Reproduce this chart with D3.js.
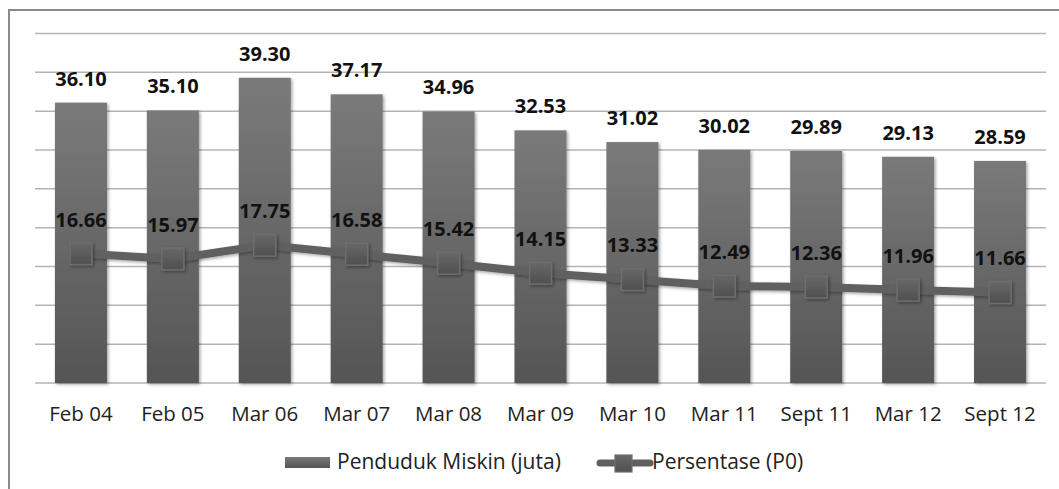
<!DOCTYPE html>
<html>
<head>
<meta charset="utf-8">
<script src="https://cdn.jsdelivr.net/npm/d3@7"></script>
<style>
  html, body { margin: 0; padding: 0; background: #fff; }
  svg { display: block; }
</style>
</head>
<body>
<svg id="chart" width="1059" height="489"></svg>
<script>
const categories = ["Feb 04", "Feb 05", "Mar 06", "Mar 07", "Mar 08", "Mar 09", "Mar 10", "Mar 11", "Sept 11", "Mar 12", "Sept 12"];
const pendudukMiskin = [36.10, 35.10, 39.30, 37.17, 34.96, 32.53, 31.02, 30.02, 29.89, 29.13, 28.59];
const persentase = [16.66, 15.97, 17.75, 16.58, 15.42, 14.15, 13.33, 12.49, 12.36, 11.96, 11.66];
const yTicks = [0, 5, 10, 15, 20, 25, 30, 35, 40, 45];
const seriesNames = ["Penduduk Miskin (juta)", "Persentase (P0)"];

const svg = d3.select("#chart");
const font = "'Open Sans', 'DejaVu Sans', sans-serif";

// frame
svg.append("rect").attr("x", 9).attr("y", 10).attr("width", 1070).attr("height", 500)
  .attr("fill", "#fff").attr("stroke", "#8a8a8a").attr("stroke-width", 2);

const defs = svg.append("defs");
const bg = defs.append("linearGradient").attr("id", "barGrad").attr("x1", 0).attr("y1", 0).attr("x2", 0).attr("y2", 1);
bg.append("stop").attr("offset", "0%").attr("stop-color", "#7a7a7a");
bg.append("stop").attr("offset", "100%").attr("stop-color", "#555555");
const mg = defs.append("linearGradient").attr("id", "mkGrad").attr("x1", 0).attr("y1", 0).attr("x2", 0).attr("y2", 1);
mg.append("stop").attr("offset", "0%").attr("stop-color", "#686868");
mg.append("stop").attr("offset", "100%").attr("stop-color", "#4f4f4f");
const sh = defs.append("filter").attr("id", "shadow").attr("x", "-20%").attr("y", "-20%").attr("width", "150%").attr("height", "150%");
sh.append("feDropShadow").attr("dx", 1.5).attr("dy", 1.5).attr("stdDeviation", 1.5).attr("flood-color", "#000").attr("flood-opacity", 0.35);

const x = d3.scaleBand().domain(categories).range([35, 1046]).paddingInner(0.434).paddingOuter(0.217);
const y = d3.scaleLinear().domain([0, 45]).range([383, 33.5]);

// gridlines
svg.append("g").selectAll("line").data(yTicks).join("line")
  .attr("x1", 35).attr("x2", 1046)
  .attr("y1", d => y(d)).attr("y2", d => y(d))
  .attr("stroke", "#b4b4b4").attr("stroke-width", 1.5);

// x axis labels
const xAxis = d3.axisBottom(x).tickSize(0).tickPadding(0);
const xg = svg.append("g").attr("transform", "translate(0,383)").call(xAxis);
xg.select(".domain").remove();
xg.selectAll("text").attr("font-family", font).attr("font-size", 20.5).attr("fill", "#222")
  .attr("dy", null).attr("y", 37.5);

// bars
svg.append("g").selectAll("rect").data(pendudukMiskin).join("rect")
  .attr("x", (d, i) => x(categories[i]))
  .attr("y", d => y(d))
  .attr("width", x.bandwidth())
  .attr("height", d => y(0) - y(d))
  .attr("fill", "url(#barGrad)")
  .attr("filter", "url(#shadow)");

// bar labels
svg.append("g").selectAll("text").data(pendudukMiskin).join("text")
  .attr("x", (d, i) => x(categories[i]) + x.bandwidth() / 2)
  .attr("y", d => y(d) - 17)
  .attr("text-anchor", "middle")
  .attr("font-family", font).attr("font-weight", "bold").attr("font-size", 20).attr("fill", "#111")
  .text(d => d.toFixed(2));

// line
const line = d3.line().x((d, i) => x(categories[i]) + x.bandwidth() / 2).y(d => y(d));
svg.append("path").datum(persentase).attr("d", line)
  .attr("fill", "none").attr("stroke", "#606060").attr("stroke-width", 8)
  .attr("filter", "url(#shadow)");

// markers
const ms = 22;
svg.append("g").selectAll("rect").data(persentase).join("rect")
  .attr("x", (d, i) => x(categories[i]) + x.bandwidth() / 2 - ms / 2)
  .attr("y", d => y(d) - ms / 2)
  .attr("width", ms).attr("height", ms)
  .attr("fill", "url(#mkGrad)").attr("stroke", "#6e6e6e").attr("stroke-width", 1.5)
  .attr("filter", "url(#shadow)");

// line labels
svg.append("g").selectAll("text").data(persentase).join("text")
  .attr("x", (d, i) => x(categories[i]) + x.bandwidth() / 2)
  .attr("y", d => y(d) - 27)
  .attr("text-anchor", "middle")
  .attr("font-family", font).attr("font-weight", "bold").attr("font-size", 20).attr("fill", "#111")
  .text(d => d.toFixed(2));

// legend
const lg = svg.append("g");
lg.append("rect").attr("x", 285).attr("y", 457).attr("width", 45).attr("height", 11)
  .attr("fill", "url(#barGrad)");
lg.append("text").attr("x", 337).attr("y", 469).attr("font-family", font).attr("font-size", 21).attr("fill", "#222")
  .text(seriesNames[0]);
lg.append("line").attr("x1", 600).attr("x2", 650).attr("y1", 463).attr("y2", 463)
  .attr("stroke", "#606060").attr("stroke-width", 7).attr("stroke-linecap", "round");
lg.append("rect").attr("x", 615).attr("y", 455).attr("width", 17).attr("height", 17)
  .attr("fill", "url(#mkGrad)").attr("stroke", "#6e6e6e").attr("stroke-width", 1.2);
lg.append("text").attr("x", 652).attr("y", 469).attr("font-family", font).attr("font-size", 21).attr("fill", "#222")
  .text(seriesNames[1]);
</script>
</body>
</html>
